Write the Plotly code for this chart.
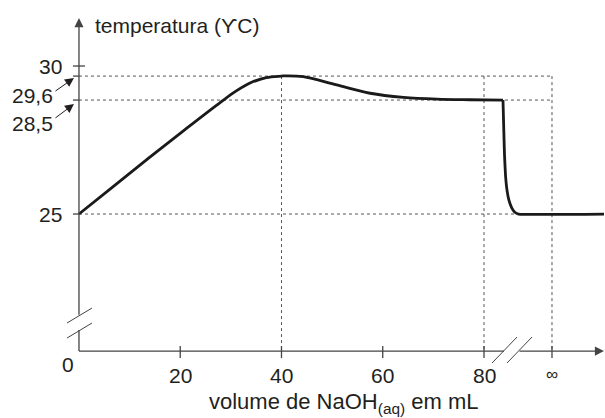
import plotly.graph_objects as go

# ---- data (y in plotted axis units) ----
rise_x = [0, 7, 14, 21, 28, 31, 34, 37, 40, 41.0, 44.3, 50.9, 57.5, 64.1, 70.7, 77.2, 83.75]
rise_y = [25.0, 25.96, 26.92, 27.86, 28.78, 29.15, 29.44, 29.61, 29.66, 29.67, 29.64, 29.36, 29.08, 28.94, 28.88, 28.86, 28.85]
drop_x = [83.75, 83.9, 84.05, 84.25, 84.55, 84.95, 85.5, 86.1, 86.8, 103.7]
drop_y = [28.85, 27.9, 27.0, 26.3, 25.8, 25.45, 25.2, 25.06, 25.0, 25.0]

x_ticks = [20, 40, 60, 80]
x_tick_labels = ["20", "40", "60", "80"]
x_inf = 93.43           # position of the "∞" tick
y_peak = 29.66          # level labelled 29,6
y_plateau = 28.85       # level labelled 28,5
y_start = 25.0
y_label_30 = 30.0

# ---- geometry of the drawing (axis units) ----
X_MIN, X_MAX = -15.6, 103.9
Y_MIN, Y_MAX = 18.11, 32.23
Y_AXIS_BOTTOM = 20.37   # where the x axis sits
Y_AXIS_TOP = 31.62
X_AXIS_END = 103.7

INK = "#231f20"
AXC = "#444444"
GRID = "#555555"
FONT = "Liberation Sans, Arial, sans-serif"
FS = 21

fig = go.Figure()
fig.add_trace(go.Scatter(x=rise_x, y=rise_y, mode="lines",
                         line=dict(color="#1a1a1a", width=2.8, shape="spline", smoothing=1.0),
                         hoverinfo="skip", showlegend=False))
fig.add_trace(go.Scatter(x=drop_x, y=drop_y, mode="lines",
                         line=dict(color="#1a1a1a", width=2.8, shape="spline", smoothing=0.4),
                         hoverinfo="skip", showlegend=False))

shapes = []
def line(x0, y0, x1, y1, color=AXC, width=1.3, dash="solid"):
    shapes.append(dict(type="line", xref="x", yref="y", x0=x0, y0=y0, x1=x1, y1=y1,
                       line=dict(color=color, width=width, dash=dash), layer="below"))

dot = "3px,3px"
# dotted guide lines
line(0, y_peak, x_inf, y_peak, GRID, 1, dot)
line(0, y_plateau, x_inf, y_plateau, GRID, 1, dot)
line(0, y_start, 86.5, y_start, GRID, 1, dot)
for xv in [40, 80, x_inf]:
    line(xv, y_peak, xv, Y_AXIS_BOTTOM, GRID, 1, dot)

# y axis (with break)
line(0, Y_AXIS_BOTTOM, 0, 21.08)
# x axis (with break)
line(0, Y_AXIS_BOTTOM, 83.95, Y_AXIS_BOTTOM)

# y ticks
line(-1.19, y_label_30, 1.19, y_label_30)
for yv in [y_peak, y_plateau, y_start]:
    line(-1.19, yv, 0, yv)
# x ticks
for xv in x_ticks + [x_inf]:
    line(xv, 20.54, xv, 20.135)

# break slashes
line(-2.37, 21.318, 2.57, 21.824, AXC, 1)
line(-2.37, 20.81, 2.57, 21.318, AXC, 1)
line(81.58, 19.966, 86.52, 20.845, AXC, 1)
line(84.54, 19.966, 89.48, 20.845, AXC, 1)

annotations = []
def text(x, y, s, xanchor="center", size=FS):
    annotations.append(dict(x=x, y=y, xref="x", yref="y", text=s, showarrow=False,
                            xanchor=xanchor, yanchor="middle",
                            font=dict(family=FONT, size=size, color=INK)))

# axis arrows
annotations.append(dict(x=0, y=Y_AXIS_TOP, xref="x", yref="y", ax=0, ay=21.55,
                        axref="x", ayref="y", text="", showarrow=True,
                        arrowhead=2, arrowsize=1.4, arrowwidth=1.3, arrowcolor=AXC))
annotations.append(dict(x=X_AXIS_END, y=Y_AXIS_BOTTOM, xref="x", yref="y", ax=86.72,
                        ay=Y_AXIS_BOTTOM, axref="x", ayref="y", text="", showarrow=True,
                        arrowhead=2, arrowsize=1.4, arrowwidth=1.3, arrowcolor=AXC))
# label pointer arrows
for hy, ty in [(29.595, 29.12), (28.716, 28.21)]:
    annotations.append(dict(x=-0.99, y=hy, xref="x", yref="y", ax=-4.94, ay=ty,
                            axref="x", ayref="y", text="", showarrow=True,
                            arrowhead=2, arrowsize=1.8, arrowwidth=1, arrowcolor=INK))

text(2.77, 31.385, "temperatura (ϒC)", "left")
text(-2.96, y_label_30, "30", "right")
text(-13.63, 29.0, "29,6", "left")
text(-13.63, 28.06, "28,5", "left")
text(-2.96, y_start, "25", "right")
text(-2.17, 19.93, "0")
for xv, lab in zip(x_ticks, x_tick_labels):
    text(xv, 19.56, lab)
text(x_inf, 19.59, "∞", size=17)
text(52.15, 18.6, "volume de NaOH<sub>(aq)</sub> em mL", size=22)

fig.update_layout(
    width=605, height=418,
    margin=dict(l=0, r=0, t=0, b=0),
    paper_bgcolor="white", plot_bgcolor="white",
    xaxis=dict(range=[X_MIN, X_MAX], visible=False, fixedrange=True),
    yaxis=dict(range=[Y_MIN, Y_MAX], visible=False, fixedrange=True),
    shapes=shapes, annotations=annotations, showlegend=False,
)
fig.write_html("out.html", config={"displayModeBar": False},
               post_script="document.body.style.margin='0';document.body.style.padding='0';")
